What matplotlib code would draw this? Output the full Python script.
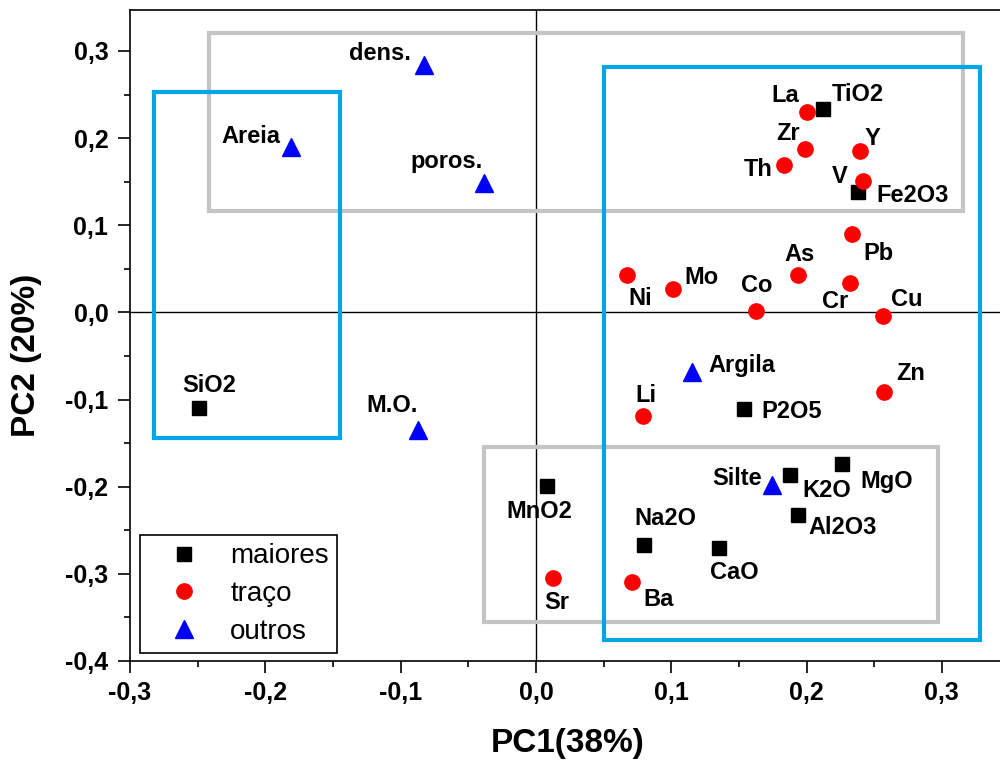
import numpy as np
import matplotlib
matplotlib.use("Agg")
import matplotlib.pyplot as plt
from matplotlib.patches import Rectangle
from matplotlib.ticker import MultipleLocator, FuncFormatter

plt.rcParams['font.family'] = ['Liberation Sans', 'DejaVu Sans']

# maiores (black squares)
maiores_nomes = ['TiO2', 'Fe2O3', 'SiO2', 'P2O5', 'MnO2', 'K2O', 'MgO', 'Al2O3', 'Na2O', 'CaO']
maiores_pc1 = [0.212, 0.238, -0.249, 0.1535, 0.008, 0.188, 0.2265, 0.1935, 0.080, 0.135]
maiores_pc2 = [0.233, 0.138, -0.110, -0.111, -0.199, -0.186, -0.174, -0.233, -0.267, -0.270]

# traço (red circles)
traco_nomes = ['La', 'Zr', 'Th', 'Y', 'V', 'Pb', 'As', 'Cr', 'Ni', 'Mo', 'Co', 'Cu', 'Zn', 'Li', 'Sr', 'Ba']
traco_pc1 = [0.200, 0.199, 0.1835, 0.2395, 0.242, 0.2335, 0.194, 0.232, 0.0675, 0.1015,
             0.1625, 0.2565, 0.2575, 0.079, 0.013, 0.071]
traco_pc2 = [0.230, 0.188, 0.169, 0.185, 0.151, 0.090, 0.0425, 0.0335, 0.043, 0.027,
             0.002, -0.0045, -0.0915, -0.119, -0.305, -0.309]

# outros (blue triangles)
outros_nomes = ['dens.', 'Areia', 'poros.', 'M.O.', 'Argila', 'Silte']
outros_pc1 = [-0.0825, -0.181, -0.0385, -0.0875, 0.115, 0.1745]
outros_pc2 = [0.284, 0.190, 0.149, -0.135, -0.0685, -0.198]

# label offsets in pixels (dx, dy) from the marker to the label centre
offsets = {
    'TiO2': (35, 17), 'Fe2O3': (55, -1), 'SiO2': (10, 25), 'P2O5': (48, 0), 'MnO2': (-7, -24),
    'K2O': (36, -14), 'MgO': (44, -15), 'Al2O3': (45, -10), 'Na2O': (21, 29), 'CaO': (16, -23),
    'La': (-21, 18), 'Zr': (-17, 17), 'Th': (-26, -2), 'Y': (13, 15), 'V': (-24, 6),
    'Pb': (27, -18), 'As': (1, 23), 'Cr': (-15, -16), 'Ni': (13, -22), 'Mo': (28, 13),
    'Co': (1, 27), 'Cu': (24, 19), 'Zn': (26, 21), 'Li': (3, 23), 'Sr': (3, -22), 'Ba': (27, -16),
    'dens.': (-44, 13), 'Areia': (-40, 12), 'poros.': (-37, 23), 'M.O.': (-25, 27),
    'Argila': (50, 9), 'Silte': (-35, 8),
}

fig = plt.figure(figsize=(10, 7.63), dpi=100)
ax = fig.add_axes([0.13, 1 - 661 / 763, 0.87, 651 / 763])

ax.axhline(0, color='black', lw=1.0, zorder=1)
ax.axvline(0, color='black', lw=1.0, zorder=1)

# grouping boxes
blue = '#00a6e6'
grey = '#c4c4c4'
boxes = [((-0.2415, 0.116), 0.5575, 0.2048, grey),
         ((-0.038, -0.355), 0.335, 0.2005, grey),
         ((-0.2823, -0.1437), 0.1377, 0.3964, blue),
         ((0.0501, -0.3761), 0.2783, 0.6574, blue)]
for xy, w, h, c in boxes:
    ax.add_patch(Rectangle(xy, w, h, fill=False, edgecolor=c, lw=3.0, zorder=2))

ax.plot(maiores_pc1, maiores_pc2, 's', color='black', ms=10, ls='none', zorder=4, label='maiores')
ax.plot(traco_pc1, traco_pc2, 'o', color='red', ms=11, ls='none', zorder=4, label='traço')
ax.plot(outros_pc1, outros_pc2, '^', color='blue', ms=13, ls='none', zorder=4, label='outros')

for nomes, xs, ys in [(maiores_nomes, maiores_pc1, maiores_pc2),
                      (traco_nomes, traco_pc1, traco_pc2),
                      (outros_nomes, outros_pc1, outros_pc2)]:
    for n, x, y in zip(nomes, xs, ys):
        dx, dy = offsets[n]
        ax.annotate(n, (x, y), xytext=(dx, dy - 8.5), textcoords='offset pixels',
                    ha='center', va='baseline', fontsize=17, fontweight='bold', zorder=5)

ax.set_xlim(-0.3, 0.343)
ax.set_ylim(-0.4, 0.347)
ax.xaxis.set_major_locator(MultipleLocator(0.1))
ax.xaxis.set_minor_locator(MultipleLocator(0.05))
ax.yaxis.set_major_locator(MultipleLocator(0.1))
ax.yaxis.set_minor_locator(MultipleLocator(0.05))
fmt = FuncFormatter(lambda v, p: f"{v:.1f}".replace('.', ',').replace('-0,0', '0,0'))
ax.xaxis.set_major_formatter(fmt)
ax.yaxis.set_major_formatter(fmt)
ax.tick_params(which='major', direction='out', length=8.6, width=1.2, labelsize=18, pad=6)
ax.tick_params(which='minor', direction='out', length=4.3, width=1.2)
ax.tick_params(axis='y', pad=7)
for lab in ax.get_xticklabels() + ax.get_yticklabels():
    lab.set_fontweight('bold')

ax.spines['right'].set_visible(False)
for s in ['left', 'bottom', 'top']:
    ax.spines[s].set_linewidth(1.2)

ax.set_xlabel('PC1(38%)', fontsize=24, fontweight='bold')
ax.set_ylabel('PC2 (20%)', fontsize=24, fontweight='bold')
ax.xaxis.set_label_coords(0.503, -0.103)
ax.yaxis.set_label_coords(-0.101, 0.47)

leg = ax.legend(loc='lower left', bbox_to_anchor=(0.0115, 0.0123), fontsize=20,
                fancybox=False, framealpha=1, edgecolor='black', borderpad=0.3,
                labelspacing=0.42, handlelength=2.6, handletextpad=0.35, borderaxespad=0)
leg.get_frame().set_linewidth(1.2)

fig.savefig('out.png', dpi=100)
